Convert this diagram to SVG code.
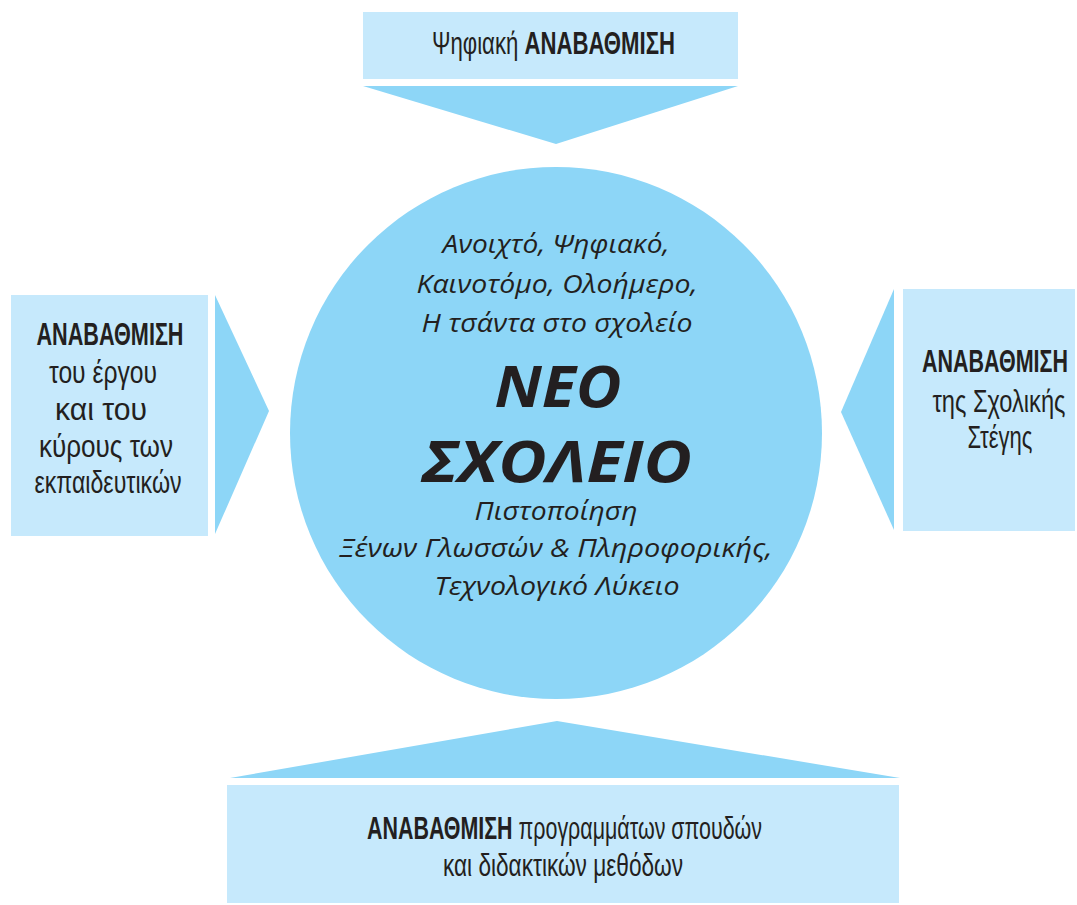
<svg xmlns="http://www.w3.org/2000/svg" width="1077" height="905" viewBox="0 0 1077 905">
  <style>
    .box { fill: #c6e9fc; }
    .arrow { fill: #8dd6f7; }
    .circle { fill: #8dd6f7; }
    .t { font-family: "Liberation Sans", "DejaVu Sans", sans-serif; font-size: 31px; fill: #231f20; }
    .b { font-weight: bold; }
    .ci { font-family: "Open Sans", "DejaVu Sans", sans-serif; font-style: italic; font-size: 25px; fill: #231f20; }
    .big { font-family: "Open Sans", "DejaVu Sans", sans-serif; font-style: italic; font-weight: bold; font-size: 57px; fill: #231f20; }
  </style>
  <rect width="1077" height="905" fill="#ffffff"/>

  <g id="connectors">
    <polygon class="arrow" points="363,86 738,86 556,144"/>
    <polygon class="arrow" points="215,295 215,534 269,411"/>
    <polygon class="arrow" points="894,289 894,530 841,412"/>
    <polygon class="arrow" points="230,778 900,778 557,721"/>
  </g>

  <g id="node-center">
    <circle class="circle" cx="556" cy="433" r="266"/>
    <text class="ci" x="556" y="253" text-anchor="middle" textLength="227" lengthAdjust="spacingAndGlyphs">Ανοιχτό, Ψηφιακό,</text>
    <text class="ci" x="557" y="293" text-anchor="middle" textLength="281" lengthAdjust="spacingAndGlyphs">Καινοτόμο, Ολοήμερο,</text>
    <text class="ci" x="557" y="332" text-anchor="middle" textLength="271" lengthAdjust="spacingAndGlyphs">Η τσάντα στο σχολείο</text>
    <text class="big" x="558" y="407" text-anchor="middle" textLength="127" lengthAdjust="spacingAndGlyphs">ΝΕΟ</text>
    <text class="big" x="557" y="482" text-anchor="middle" textLength="270" lengthAdjust="spacingAndGlyphs">ΣΧΟΛΕΙΟ</text>
    <text class="ci" x="556" y="520" text-anchor="middle" textLength="163" lengthAdjust="spacingAndGlyphs">Πιστοποίηση</text>
    <text class="ci" x="556" y="557" text-anchor="middle" textLength="433" lengthAdjust="spacingAndGlyphs">Ξένων Γλωσσών &amp; Πληροφορικής,</text>
    <text class="ci" x="557" y="595" text-anchor="middle" textLength="245" lengthAdjust="spacingAndGlyphs">Τεχνολογικό Λύκειο</text>
  </g>

  <g id="node-top">
    <rect class="box" x="363" y="12" width="375" height="67"/>
    <text class="t" x="432" y="54" textLength="243" lengthAdjust="spacingAndGlyphs">Ψηφιακή  <tspan class="b">ΑΝΑΒΑΘΜΙΣΗ</tspan></text>
  </g>

  <g id="node-left">
    <rect class="box" x="11" y="295" width="197" height="241"/>
    <text class="t b" x="110" y="345" text-anchor="middle" textLength="147" lengthAdjust="spacingAndGlyphs">ΑΝΑΒΑΘΜΙΣΗ</text>
    <text class="t" x="103" y="383" text-anchor="middle" textLength="108" lengthAdjust="spacingAndGlyphs">του έργου</text>
    <text class="t" x="101" y="420" text-anchor="middle" textLength="92" lengthAdjust="spacingAndGlyphs">και του</text>
    <text class="t" x="106" y="457" text-anchor="middle" textLength="134" lengthAdjust="spacingAndGlyphs">κύρους των</text>
    <text class="t" x="108" y="493" text-anchor="middle" textLength="147" lengthAdjust="spacingAndGlyphs">εκπαιδευτικών</text>
  </g>

  <g id="node-right">
    <rect class="box" x="903" y="289" width="172" height="242"/>
    <text class="t b" x="995" y="372" text-anchor="middle" textLength="146" lengthAdjust="spacingAndGlyphs">ΑΝΑΒΑΘΜΙΣΗ</text>
    <text class="t" x="999" y="412" text-anchor="middle" textLength="133" lengthAdjust="spacingAndGlyphs">της Σχολικής</text>
    <text class="t" x="1000" y="448" text-anchor="middle" textLength="65" lengthAdjust="spacingAndGlyphs">Στέγης</text>
  </g>

  <g id="node-bottom">
    <rect class="box" x="227" y="785" width="672" height="118"/>
    <text class="t" x="367" y="839" textLength="395" lengthAdjust="spacingAndGlyphs"><tspan class="b">ΑΝΑΒΑΘΜΙΣΗ</tspan> προγραμμάτων σπουδών</text>
    <text class="t" x="563" y="876" text-anchor="middle" textLength="240" lengthAdjust="spacingAndGlyphs">και διδακτικών μεθόδων</text>
  </g>
</svg>
